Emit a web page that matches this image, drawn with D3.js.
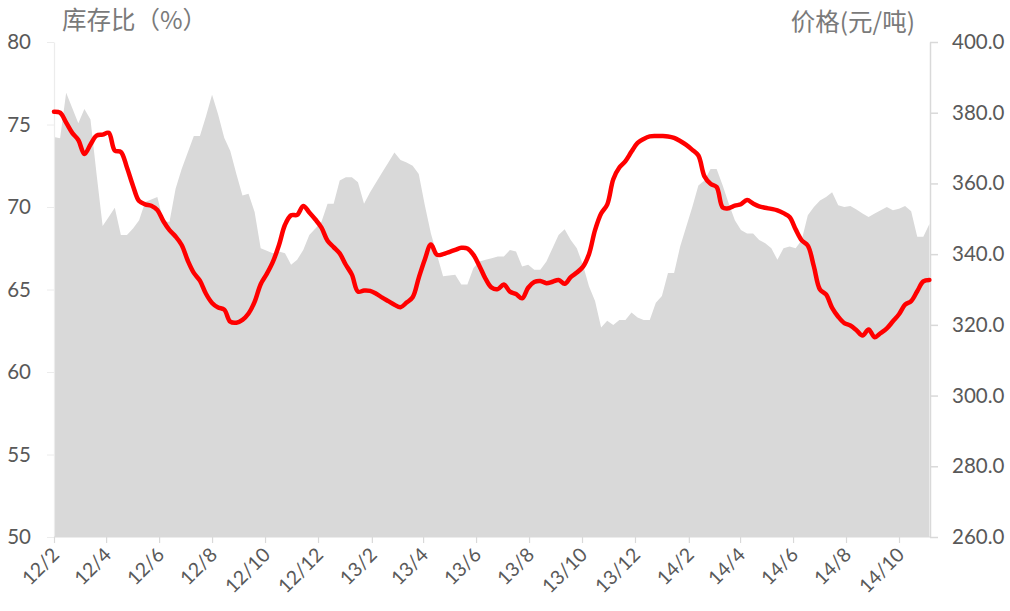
<!DOCTYPE html>
<html>
<head>
<meta charset="utf-8">
<script src="https://cdn.jsdelivr.net/npm/d3@7/dist/d3.min.js"></script>
<style>
  html, body { margin: 0; padding: 0; background: #fff; }
  svg { display: block; }
  .tick text { font-family: Lato, "Noto Sans", sans-serif; }
</style>
</head>
<body>
<svg id="chart" width="1010" height="611"></svg>
<script>
// Weekly series, first week starting 2012-02-01
const firstWeek = "2012-02-01";

// 库存比 (%), left axis
const stockRatio = [
  74.24, 74.16, 76.93, 76.0, 75.07, 75.94, 75.3, 72.0, 68.85, 69.4,
  69.96, 68.3, 68.3, 68.7, 69.2, 70.3, 70.45, 70.6, 69.1, 69.1,
  71.1, 72.3, 73.3, 74.3, 74.3, 75.5, 76.8, 75.6, 74.2, 73.4,
  72.0, 70.7, 70.8, 69.7, 67.5, 67.35, 67.2, 67.3, 67.2, 66.5,
  66.8, 67.4, 68.3, 68.7, 69.1, 70.2, 70.2, 71.6, 71.8, 71.8,
  71.5, 70.2, 70.9, 71.5, 72.1, 72.7, 73.3, 72.85, 72.7, 72.5,
  72.0, 70.1, 68.4, 67.1, 65.8, 65.85, 65.9, 65.3, 65.3, 66.3,
  66.7, 66.8, 66.9, 67.0, 67.0, 67.4, 67.3, 66.4, 66.5, 66.2,
  66.2, 66.7, 67.5, 68.3, 68.65, 68.0, 67.5, 66.5, 65.2, 64.3,
  62.7, 63.1, 62.85, 63.15, 63.15, 63.6, 63.3, 63.15, 63.15, 64.2,
  64.6, 66.0, 66.0, 67.6, 68.8, 70.0, 71.3, 71.6, 72.3, 72.3,
  71.3, 70.2, 69.2, 68.6, 68.4, 68.4, 68.0, 67.8, 67.5, 66.8,
  67.5, 67.6, 67.5, 68.0, 69.5, 70.0, 70.4, 70.6, 70.9, 70.1,
  70.0, 70.06, 69.85, 69.6, 69.4, 69.6, 69.8, 70.0, 69.8, 69.9,
  70.06, 69.75, 68.2, 68.2, 68.97
];

// 价格 (元/吨), right axis
const price = [
  380.3, 380.0, 377.2, 374.3, 372.3, 368.3, 371.0, 373.5, 373.8, 374.3,
  369.3, 368.9, 364.5, 359.3, 355.0, 354.1, 353.7, 352.5, 349.3, 346.8,
  345.0, 342.6, 338.2, 334.7, 332.5, 328.8, 326.2, 324.9, 324.3, 320.9,
  320.6, 321.4, 323.2, 326.5, 331.5, 334.4, 337.8, 342.5, 348.3, 351.0,
  351.1, 353.6, 351.8, 349.8, 347.5, 343.8, 342.0, 340.2, 337.0, 334.2,
  329.4, 329.7, 329.6, 328.8, 327.7, 326.7, 325.7, 325.0, 326.3, 327.8,
  333.3, 338.5, 342.7, 339.8, 340.0, 340.6, 341.2, 341.8, 341.6, 339.8,
  336.6, 333.0, 330.5, 330.1, 331.4, 329.4, 328.7, 327.5, 330.5, 332.1,
  332.4, 331.8, 332.2, 332.7, 331.6, 333.5, 334.8, 336.4, 340.0, 346.8,
  351.5, 354.0, 361.2, 364.5, 366.3, 369.0, 371.5, 372.6, 373.3, 373.4,
  373.4, 373.3, 372.9, 372.0, 370.9, 369.5, 367.9, 362.0, 359.9, 359.0,
  353.2, 353.0, 353.7, 354.1, 355.3, 354.3, 353.5, 353.1, 352.8, 352.4,
  351.6, 350.5, 347.0, 343.9, 342.4, 336.5, 330.0, 328.6, 324.8, 322.3,
  320.5, 319.8, 318.5, 317.0, 318.7, 316.5, 317.7, 319.0, 321.0, 323.0,
  325.7, 326.7, 329.5, 332.3, 332.7
];

const monthTicks = ["12/2","12/4","12/6","12/8","12/10","12/12","13/2","13/4",
                    "13/6","13/8","13/10","13/12","14/2","14/4","14/6","14/8","14/10"];
const leftTicks = [50, 55, 60, 65, 70, 75, 80];
const rightTicks = [260, 280, 300, 320, 340, 360, 380, 400];

const leftTitle = "库存比（%）";
const rightTitle = "价格(元/吨)";

// ---- setup ----
const svg = d3.select("#chart");
const plot = { left: 54, right: 930, top: 42, bottom: 537 };

const start = d3.timeParse("%Y-%m-%d")(firstWeek);
const weeks = stockRatio.map((_, i) => d3.timeDay.offset(start, 7 * i));
const tickDates = monthTicks.map(s => d3.timeParse("%y/%m")(s));

const x = d3.scaleTime()
  .domain([tickDates[0], tickDates[tickDates.length - 1]])
  .range([plot.left, 899]);
const yL = d3.scaleLinear().domain([50, 80]).range([plot.bottom, plot.top]);
const yR = d3.scaleLinear().domain([260, 400]).range([plot.bottom, plot.top]);

const axisColor = "#d9d9d9";
const textColor = "#595959";

// inventory ratio area
const area = d3.area()
  .x((d, i) => x(weeks[i]))
  .y0(yL(50))
  .y1(d => yL(d));
svg.append("path")
  .datum(stockRatio)
  .attr("d", area)
  .attr("fill", "#d9d9d9");

// left axis
const gL = svg.append("g")
  .attr("transform", `translate(${plot.left},0)`)
  .call(d3.axisLeft(yL).tickValues(leftTicks).tickFormat(d3.format("d"))
    .tickSize(7).tickSizeOuter(0).tickPadding(16));
gL.select(".domain").attr("stroke", "#ececec").attr("stroke-width", 1.2);
gL.selectAll(".tick line").attr("stroke", "#ececec");
gL.selectAll(".tick text").attr("fill", textColor).style("font-size", "20.5px");

// right axis
const gR = svg.append("g")
  .attr("transform", `translate(${plot.right},0)`)
  .call(d3.axisRight(yR).tickValues(rightTicks).tickFormat(d3.format(".1f"))
    .tickSize(8).tickSizeOuter(0).tickPadding(14));
gR.select(".domain").attr("stroke", axisColor).attr("stroke-width", 1.5);
gR.selectAll(".tick line").attr("stroke", axisColor).attr("stroke-width", 1.5);
gR.selectAll(".tick text").attr("fill", textColor).style("font-size", "20.5px");

// bottom axis
const gB = svg.append("g")
  .attr("transform", `translate(0,${plot.bottom})`)
  .call(d3.axisBottom(x).tickValues(tickDates).tickFormat((d, i) => monthTicks[i])
    .tickSize(6).tickSizeOuter(0));
gB.select(".domain").attr("stroke", axisColor).attr("d", `M${plot.left},0H${plot.right}`);
gB.selectAll(".tick line").attr("stroke", axisColor).attr("stroke-width", 1.2);
gB.selectAll(".tick text")
  .attr("fill", textColor)
  .style("font-size", "19.5px")
  .attr("text-anchor", "end")
  .attr("dy", null)
  .attr("y", null)
  .attr("transform", "translate(6,19) rotate(-45)");

// price line
const line = d3.line()
  .x((d, i) => x(weeks[i]))
  .y(d => yR(d))
  .curve(d3.curveCatmullRom.alpha(0.5));
svg.append("path")
  .datum(price)
  .attr("d", line)
  .attr("fill", "none")
  .attr("stroke", "#ff0000")
  .attr("stroke-width", 4.5)
  .attr("stroke-linejoin", "round")
  .attr("stroke-linecap", "round");

// axis titles
svg.append("text")
  .attr("x", 62).attr("y", 29)
  .attr("fill", "#7a7a7a")
  .style("font-family", "'Noto Sans CJK SC', sans-serif")
  .style("font-size", "24.5px")
  .text(leftTitle);
svg.append("text")
  .attr("x", 915).attr("y", 31)
  .attr("text-anchor", "end")
  .attr("fill", "#7a7a7a")
  .style("font-family", "'Noto Sans CJK SC', sans-serif")
  .style("font-size", "24.5px")
  .text(rightTitle);
</script>
</body>
</html>
